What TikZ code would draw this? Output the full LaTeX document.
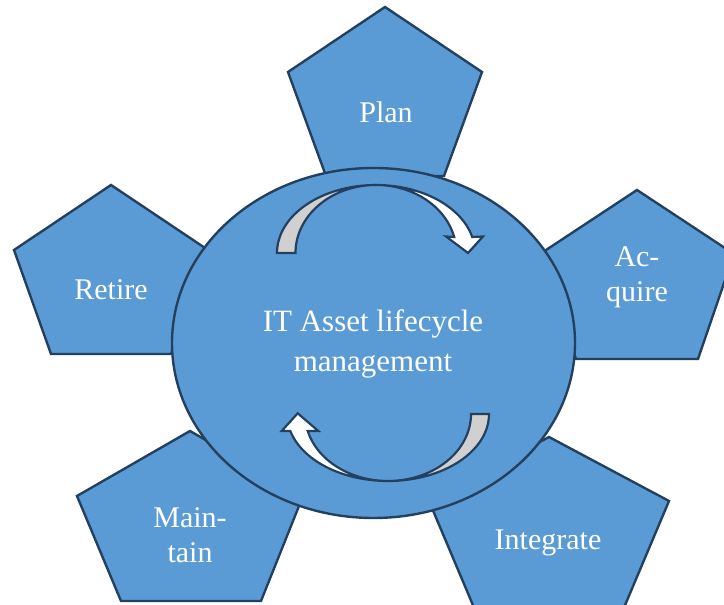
\documentclass[tikz,border=0pt]{standalone}
\usepackage{fontspec}
\setmainfont{Liberation Serif}
\definecolor{pfill}{RGB}{91,155,213}
\definecolor{pline}{RGB}{35,65,95}
\definecolor{agray}{RGB}{208,208,208}
\begin{document}
\begin{tikzpicture}[x=1pt,y=1pt,
  shapebox/.style={fill=pfill, draw=pline, line width=2.4pt, line join=miter},
  labeltext/.style={text=white, font=\fontsize{30}{35}\selectfont, inner sep=0pt, align=center},
  hubtext/.style={text=white, font=\fontsize{31}{40}\selectfont, inner sep=0pt, align=center},
  arrowpart/.style={draw=pline, line width=2.2pt, line join=miter}]
\clip (0,0) rectangle (724,605);
% pentagons
\draw[shapebox] (385,598) -- (482,533) -- (444,429) -- (326,429) -- (288,533) -- cycle;
\draw[shapebox] (637,415) -- (734,351) -- (698,246) -- (576,246) -- (540,351) -- cycle;
\draw[shapebox] (111,420) -- (208,355) -- (171,251) -- (51,251) -- (14,355) -- cycle;
\draw[shapebox] (190,174) -- (303,109) -- (261,4) -- (121,4) -- (77,109) -- cycle;
\draw[shapebox] (549,168) -- (669,104) -- (623,-5) -- (475,-5) -- (429,104) -- cycle;
% central ellipse
\draw[shapebox] (373.5,262) ellipse [x radius=201.5, y radius=175];
% top circular arrow (centre 376,352)
\filldraw[arrowpart, fill=agray] (277,352)
  arc[start angle=180, end angle=90, x radius=99, y radius=68]
  arc[start angle=90, end angle=180, x radius=80.5, y radius=68] -- cycle;
\filldraw[arrowpart, fill=white] (376,420)
  arc[start angle=90, end angle=13.6, x radius=99, y radius=68]
  -- (483,368.5) -- (468,352) -- (446,368.5) -- (454.24,367.99)
  arc[start angle=13.6, end angle=90, x radius=80.5, y radius=68] -- cycle;
% bottom circular arrow (centre 388,191)
\filldraw[arrowpart, fill=agray] (489,191)
  arc[start angle=0, end angle=-90, x radius=101, y radius=67]
  arc[start angle=-90, end angle=0, x radius=83, y radius=67] -- cycle;
\filldraw[arrowpart, fill=white] (388,124)
  arc[start angle=-90, end angle=-165.3, x radius=101, y radius=67]
  -- (281.7,174) -- (297.7,191.7) -- (318.3,174) -- (307.71,174.0)
  arc[start angle=-165.3, end angle=-90, x radius=83, y radius=67] -- cycle;
% labels
\node[labeltext, anchor=base] (plan) at (386,482) {Plan};
\node[labeltext, anchor=base] (retire) at (111,305) {Retire};
\node[labeltext, anchor=base] (integrate) at (548,55) {Integrate};
\node[labeltext, anchor=base] (acquire) at (637,303) {Ac-\\quire};
\node[labeltext, anchor=base] (maintain) at (190,42) {Main-\\tain};
\node[hubtext, anchor=base] (hub) at (373,233) {IT Asset lifecycle\\management};
\end{tikzpicture}
\end{document}
